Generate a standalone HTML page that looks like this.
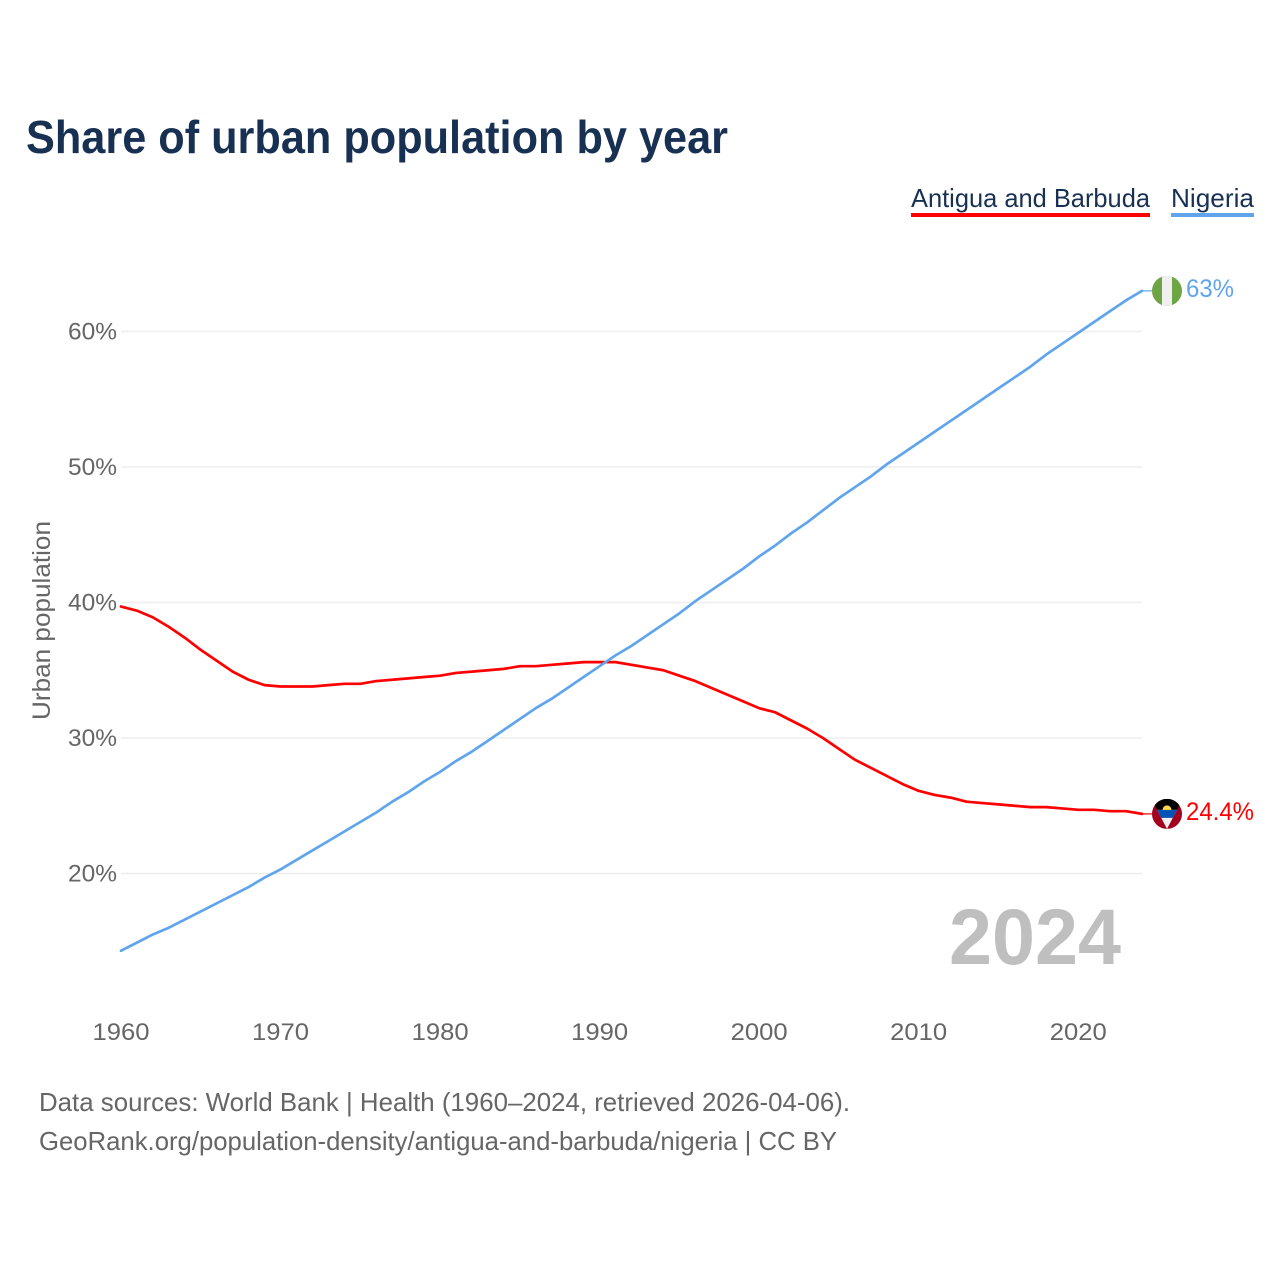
<!DOCTYPE html>
<html lang="en">
<head>
<meta charset="utf-8">
<title>Share of urban population by year</title>
<style>
html,body{margin:0;padding:0;background:#fff}
svg{display:block}
text{font-family:"Liberation Sans",sans-serif}
</style>
</head>
<body>
<svg id="chart" xmlns="http://www.w3.org/2000/svg" width="1280" height="1280" viewBox="0 0 1280 1280">
  <defs>
    <clipPath id="clip-ng"><circle cx="0" cy="0" r="15"/></clipPath>
    <clipPath id="clip-ag"><circle cx="0" cy="0" r="15"/></clipPath>
  </defs>
  <rect width="1280" height="1280" fill="#fff"/>
  <text x="26" y="153" font-size="46" font-weight="700" fill="#183153" textLength="702" lengthAdjust="spacingAndGlyphs">Share of urban population by year</text>

  <g>
    <g>
      <text x="911" y="207" font-size="26" fill="#183153" textLength="239" lengthAdjust="spacingAndGlyphs">Antigua and Barbuda</text>
      <rect x="911" y="213" width="239" height="4" fill="#ff0000"/>
    </g>
    <g>
      <text x="1171" y="207" font-size="26" fill="#183153" textLength="83" lengthAdjust="spacingAndGlyphs">Nigeria</text>
      <rect x="1171" y="213" width="83" height="4" fill="#60a5ec"/>
    </g>
  </g>

  <g id="grid"></g>
  <g id="yticks"></g>
  <g id="xticks"></g>
  <text transform="translate(50,720) rotate(-90)" font-size="25" fill="#666" textLength="199" lengthAdjust="spacingAndGlyphs">Urban population</text>

  <text x="949" y="964" font-size="79" font-weight="700" fill="#bfbfbf" textLength="172" lengthAdjust="spacingAndGlyphs">2024</text>

  <path id="line-ag" fill="none" stroke="#ff0000" stroke-width="2.7" stroke-linejoin="round" stroke-linecap="round"/>
  <path id="line-ng" fill="none" stroke="#60a5ec" stroke-width="2.7" stroke-linejoin="round" stroke-linecap="round"/>
  <line id="stub-ag" stroke="#ff0000" stroke-width="1.2"/>
  <line id="stub-ng" stroke="#60a5ec" stroke-width="1.2"/>

  <g id="flag-ng">
    <g clip-path="url(#clip-ng)">
      <rect x="-15" y="-15" width="30" height="30" fill="#6da544"/>
      <rect x="-5" y="-15" width="10" height="30" fill="#f0f0f0"/>
    </g>
  </g>
  <g id="flag-ag">
    <g clip-path="url(#clip-ag)">
      <rect x="-15" y="-15" width="30" height="30" fill="#a2001d"/>
      <polygon points="-15,-15 15,-15 10,-4 -10,-4" fill="#000"/>
      <circle cx="0" cy="-4" r="4.5" fill="#ffda44"/>
      <polygon points="-10,-4 10,-4 0,15" fill="#f0f0f0"/>
      <polygon points="-10,-4 10,-4 5.8,4 -5.8,4" fill="#0052b4"/>
    </g>
  </g>
  <text id="value-ng" x="1186" font-size="25" fill="#60a5ec" textLength="48" lengthAdjust="spacingAndGlyphs"></text>
  <text id="value-ag" x="1186" font-size="25" fill="#ff0000" textLength="68" lengthAdjust="spacingAndGlyphs"></text>

  <g>
    <text x="39" y="1111" font-size="26" fill="#666" textLength="811" lengthAdjust="spacingAndGlyphs">Data sources: World Bank | Health (1960–2024, retrieved 2026-04-06).</text>
    <text x="39" y="1150" font-size="26" fill="#666" textLength="798" lengthAdjust="spacingAndGlyphs">GeoRank.org/population-density/antigua-and-barbuda/nigeria | CC BY</text>
  </g>
</svg>
<script>
const startYear = 1960;
const nigeria = [14.3,14.9,15.5,16.0,16.6,17.2,17.8,18.4,19.0,19.7,
  20.3,21.0,21.7,22.4,23.1,23.8,24.5,25.3,26.0,26.8,
  27.5,28.3,29.0,29.8,30.6,31.4,32.2,32.9,33.7,34.5,
  35.3,36.1,36.8,37.6,38.4,39.2,40.1,40.9,41.7,42.5,
  43.4,44.2,45.1,45.9,46.8,47.7,48.5,49.3,50.2,51.0,
  51.8,52.6,53.4,54.2,55.0,55.8,56.6,57.4,58.3,59.1,
  59.9,60.7,61.5,62.3,63.0];
const antigua = [39.7,39.4,38.9,38.2,37.4,36.5,35.7,34.9,34.3,33.9,
  33.8,33.8,33.8,33.9,34.0,34.0,34.2,34.3,34.4,34.5,
  34.6,34.8,34.9,35.0,35.1,35.3,35.3,35.4,35.5,35.6,
  35.6,35.6,35.4,35.2,35.0,34.6,34.2,33.7,33.2,32.7,
  32.2,31.9,31.3,30.7,30.0,29.2,28.4,27.8,27.2,26.6,
  26.1,25.8,25.6,25.3,25.2,25.1,25.0,24.9,24.9,24.8,
  24.7,24.7,24.6,24.6,24.4];
const yTicks = [20,30,40,50,60];
const xTicks = [1960,1970,1980,1990,2000,2010,2020];
const nigeriaLabel = "63%";
const antiguaLabel = "24.4%";

const NS = "http://www.w3.org/2000/svg";
function xScale(year){ return 121 + (year - 1960) * (1142 - 121) / 64; }
function yScale(v){ return 873.5 - (v - 20) * (873.5 - 331.5) / 40; }
function pathFor(values){
  return values.map(function(v,i){
    return (i ? "L" : "M") + xScale(startYear + i).toFixed(2) + " " + yScale(v).toFixed(2);
  }).join(" ");
}

const grid = document.getElementById("grid");
const yG = document.getElementById("yticks");
const xG = document.getElementById("xticks");

yTicks.forEach(function(t){
  const l = document.createElementNS(NS,"line");
  
  
  l.setAttribute("x1", xScale(1960));
  l.setAttribute("x2", xScale(2024));
  l.setAttribute("y1", yScale(t));
  l.setAttribute("y2", yScale(t));
  l.setAttribute("stroke", "#eeeeee");
  l.setAttribute("stroke-width", "1.5");
  grid.appendChild(l);
  const s = document.createElementNS(NS,"text");
  
  
  s.setAttribute("x", 68);
  s.setAttribute("y", yScale(t) + 8);
  s.setAttribute("font-size", "24");
  s.setAttribute("fill", "#666");
  s.setAttribute("textLength", "49");
  s.setAttribute("lengthAdjust", "spacingAndGlyphs");
  s.textContent = t + "%";
  yG.appendChild(s);
});

xTicks.forEach(function(t){
  const s = document.createElementNS(NS,"text");
  
  
  s.setAttribute("x", xScale(t) - 28.5);
  s.setAttribute("y", 1040);
  s.setAttribute("font-size", "24");
  s.setAttribute("fill", "#666");
  s.setAttribute("textLength", "57");
  s.setAttribute("lengthAdjust", "spacingAndGlyphs");
  s.textContent = t;
  xG.appendChild(s);
});

document.getElementById("line-ag").setAttribute("d", pathFor(antigua));
document.getElementById("line-ng").setAttribute("d", pathFor(nigeria));

function endMarkers(values, key, label){
  const last = values[values.length - 1];
  const yy = yScale(last);
  const stub = document.getElementById("stub-" + key);
  stub.setAttribute("x1", xScale(2024));
  stub.setAttribute("x2", 1153);
  stub.setAttribute("y1", yy);
  stub.setAttribute("y2", yy);
  document.getElementById("flag-" + key).setAttribute("transform", "translate(1167," + yy + ")");
  const v = document.getElementById("value-" + key);
  v.setAttribute("y", yy + 6);
  v.textContent = label;
}
endMarkers(nigeria, "ng", nigeriaLabel);
endMarkers(antigua, "ag", antiguaLabel);
</script>
</body>
</html>
